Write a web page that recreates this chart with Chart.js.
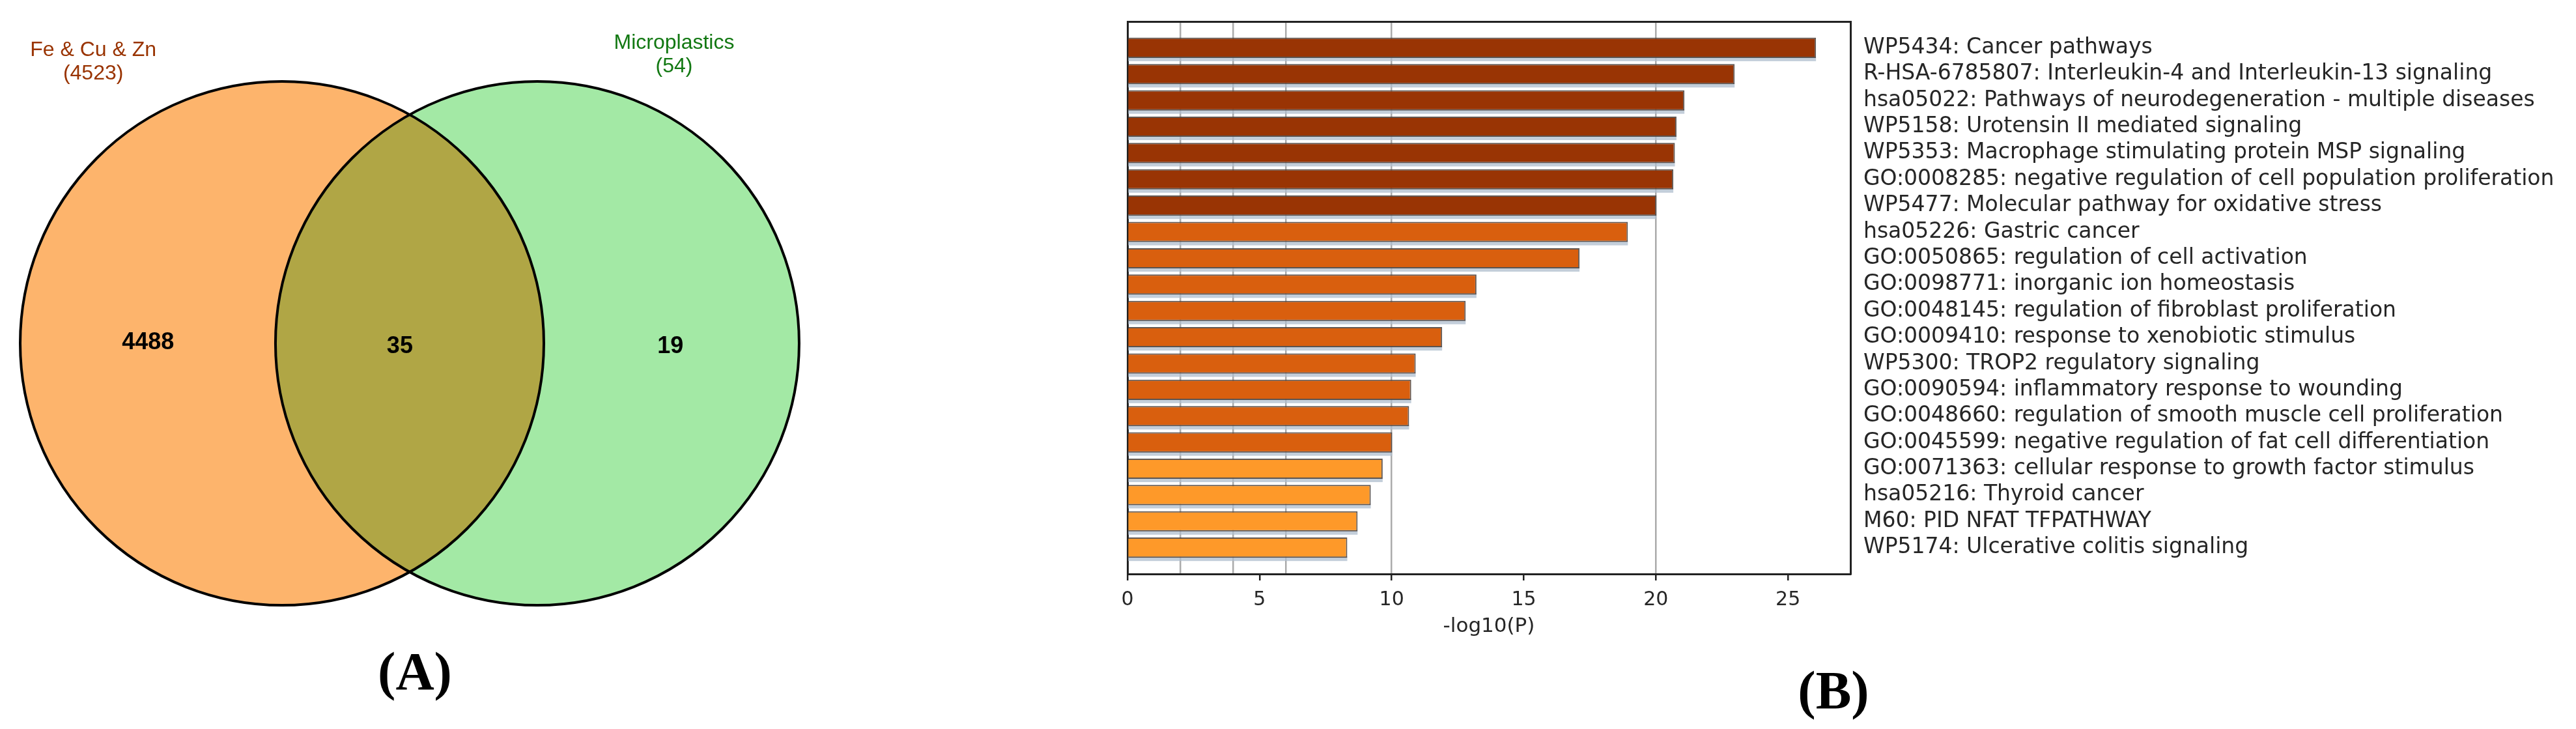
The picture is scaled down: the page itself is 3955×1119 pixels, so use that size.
<!DOCTYPE html>
<html>
<head>
<meta charset="utf-8">
<script src="https://cdn.jsdelivr.net/npm/chart.js@4.4.1/dist/chart.umd.min.js"></script>
<style>
  html, body { margin: 0; padding: 0; background: #fff; }
  #page { position: relative; width: 3955px; height: 1119px; overflow: hidden; background: #fff; }
  #venn { position: absolute; left: 0; top: 0; }
  #enrich { position: absolute; left: 1400px; top: 0; }
  .panel {
    position: absolute;
    font-family: "Liberation Serif", "Times New Roman", serif;
    font-weight: bold;
    font-size: 82px;
    line-height: 82px;
    transform: translateX(-50%);
    color: #000;
  }
</style>
</head>
<body>
<div id="page">
  <canvas id="venn" width="1320" height="1119"></canvas>
  <canvas id="enrich" width="2555" height="1119"></canvas>
  <div class="panel" style="left:637px; top:990px;">(A)</div>
  <div class="panel" style="left:2815px; top:1019px;">(B)</div>
</div>
<script>
// ---- panel A data ----
var setNames = ['Fe & Cu & Zn', 'Microplastics']
var setTotals = [4523, 54]
var regionCounts = [4488, 35, 19]   // only left, both, only right

// ---- panel B data ----
var termLabels = [
  'WP5434: Cancer pathways',
  'R-HSA-6785807: Interleukin-4 and Interleukin-13 signaling',
  'hsa05022: Pathways of neurodegeneration - multiple diseases',
  'WP5158: Urotensin II mediated signaling',
  'WP5353: Macrophage stimulating protein MSP signaling',
  'GO:0008285: negative regulation of cell population proliferation',
  'WP5477: Molecular pathway for oxidative stress',
  'hsa05226: Gastric cancer',
  'GO:0050865: regulation of cell activation',
  'GO:0098771: inorganic ion homeostasis',
  'GO:0048145: regulation of fibroblast proliferation',
  'GO:0009410: response to xenobiotic stimulus',
  'WP5300: TROP2 regulatory signaling',
  'GO:0090594: inflammatory response to wounding',
  'GO:0048660: regulation of smooth muscle cell proliferation',
  'GO:0045599: negative regulation of fat cell differentiation',
  'GO:0071363: cellular response to growth factor stimulus',
  'hsa05216: Thyroid cancer',
  'M60: PID NFAT TFPATHWAY',
  'WP5174: Ulcerative colitis signaling'
]
var logP = [26.06, 22.98, 21.08, 20.78, 20.72, 20.66, 20.02, 18.94, 17.11, 13.21,
            12.80, 11.91, 10.91, 10.74, 10.66, 10.02, 9.66, 9.21, 8.71, 8.32]
var xTickValues = [0, 5, 10, 15, 20, 25]
var cutoffLines = [2, 4, 6, 10, 20]

// ---- venn layout (data units, circle radius = 1) ----
var vennLayout = {
  centers: [0, 0.975],
  radius: 1,
  regionX: [-0.512, 0.450, 1.483],
  regionY: [0.0025, -0.012, -0.012],
  nameX: [-0.721, 1.4975],
  nameY: [1.119, 1.147],
  lineGap: 0.0896,
  fills: ['#FDB46C', '#A3E9A5'],
  overlapFill: '#B0A645',
  textColors: ['#993300', '#127812']
}

var vennPlugin = {
  id: 'venn',
  beforeDatasetsDraw: function(chart) {
    var ctx = chart.ctx, x = chart.scales.x, y = chart.scales.y
    var rx = x.getPixelForValue(vennLayout.radius) - x.getPixelForValue(0)
    var ry = y.getPixelForValue(0) - y.getPixelForValue(vennLayout.radius)
    var cy = y.getPixelForValue(0)
    var cx = vennLayout.centers.map(function(c) { return x.getPixelForValue(c) })
    function shape(px) { ctx.beginPath(); ctx.ellipse(px, cy, rx, ry, 0, 0, 2 * Math.PI) }
    ctx.save()
    cx.forEach(function(px, i) {
      shape(px); ctx.fillStyle = vennLayout.fills[i]; ctx.fill()
    })
    ctx.save()
    shape(cx[0]); ctx.clip()
    shape(cx[1]); ctx.fillStyle = vennLayout.overlapFill; ctx.fill()
    ctx.restore()
    ctx.lineWidth = 4; ctx.strokeStyle = '#000'
    cx.forEach(function(px) { shape(px); ctx.stroke() })
    ctx.restore()
  },
  afterDatasetsDraw: function(chart) {
    var ctx = chart.ctx, x = chart.scales.x, y = chart.scales.y
    ctx.save()
    ctx.textAlign = 'center'; ctx.textBaseline = 'middle'
    ctx.fillStyle = '#000'
    ctx.font = 'bold 36px "Liberation Sans", Arial, sans-serif'
    chart.getDatasetMeta(0).data.forEach(function(pt, i) {
      ctx.fillText(String(regionCounts[i]), pt.x, pt.y)
    })
    ctx.font = '32px "Liberation Sans", Arial, sans-serif'
    setNames.forEach(function(n, i) {
      ctx.fillStyle = vennLayout.textColors[i]
      var px = x.getPixelForValue(vennLayout.nameX[i])
      ctx.fillText(n, px, y.getPixelForValue(vennLayout.nameY[i]))
      ctx.fillText('(' + setTotals[i] + ')', px, y.getPixelForValue(vennLayout.nameY[i] - vennLayout.lineGap))
    })
    ctx.restore()
  }
}

new Chart(document.getElementById('venn'), {
  type: 'scatter',
  data: {
    datasets: [{
      label: 'regions',
      data: regionCounts.map(function(c, i) {
        return { x: vennLayout.regionX[i], y: vennLayout.regionY[i] }
      }),
      pointRadius: 0
    }]
  },
  options: {
    responsive: false,
    animation: false,
    events: [],
    layout: { padding: 0 },
    plugins: { legend: { display: false }, tooltip: { enabled: false } },
    scales: {
      x: { type: 'linear', display: false, min: -1.0771, max: 2.2065 },
      y: { type: 'linear', display: false, min: -1.4726, max: 1.311 }
    }
  },
  plugins: [vennPlugin]
})

// ---- enrichment bar chart ----
var xMax = Math.max.apply(null, logP) * 1.05
var labelFont = '"DejaVu Sans", Verdana, sans-serif'

// light shadow strip under each bar
var barShadow = {
  id: 'barShadow',
  beforeDatasetsDraw: function(chart) {
    var ctx = chart.ctx
    ctx.save()
    ctx.fillStyle = 'rgba(175,190,205,0.75)'
    chart.getDatasetMeta(0).data.forEach(function(bar) {
      var p = bar.getProps(['x', 'y', 'base', 'height'], true)
      ctx.fillRect(p.base, p.y + p.height / 2 - 2, p.x - p.base, 7)
    })
    ctx.restore()
  }
}

new Chart(document.getElementById('enrich'), {
  type: 'bar',
  data: {
    datasets: [{
      label: 'Enrichment',
      data: logP.map(function(v, i) { return { x: v, y: i } }),
      backgroundColor: function(c) {
        var v = c.raw ? c.raw.x : 0
        return v >= 20 ? '#993404' : (v >= 10 ? '#D95F0E' : '#FE9929')
      },
      borderColor: 'rgba(80,70,65,0.9)',
      borderWidth: 2,
      categoryPercentage: 1,
      barPercentage: 0.77,
      xAxisID: 'x',
      yAxisID: 'y'
    }]
  },
  options: {
    indexAxis: 'y',
    responsive: false,
    animation: false,
    events: [],
    layout: { padding: { left: 331, top: 33, right: 0, bottom: 0 } },
    plugins: { legend: { display: false }, tooltip: { enabled: false } },
    scales: {
      x: {
        type: 'linear', position: 'bottom', min: 0, max: xMax,
        afterBuildTicks: function(a) { a.ticks = xTickValues.map(function(v) { return { value: v } }) },
        grid: { display: true, drawOnChartArea: false, drawTicks: true, tickLength: 10, color: '#222', lineWidth: 2.5 },
        border: { display: true, color: '#222', width: 3 },
        ticks: { font: { family: labelFont, size: 30 }, color: '#262626', padding: 12 },
        title: { display: true, text: '-log10(P)', font: { family: labelFont, size: 31 }, color: '#262626', padding: { top: 0, bottom: 138 } },
        afterFit: function(a) { a.height = 238 }
      },
      xg: {
        type: 'linear', position: 'bottom', min: 0, max: xMax,
        afterBuildTicks: function(a) { a.ticks = cutoffLines.map(function(v) { return { value: v } }) },
        grid: { color: '#ababab', lineWidth: 2.5, drawTicks: false },
        border: { display: false },
        ticks: { display: false },
        afterFit: function(a) { a.height = 0 }
      },
      xt: {
        type: 'linear', position: 'top', min: 0, max: xMax,
        grid: { display: false },
        border: { display: true, color: '#222', width: 3 },
        ticks: { display: false },
        afterFit: function(a) { a.height = 0 }
      },
      y: {
        type: 'linear', position: 'right', reverse: true, min: -1, max: 20, offset: false,
        grid: { display: false },
        border: { display: true, color: '#222', width: 3 },
        ticks: {
          stepSize: 1, autoSkip: false, padding: 12,
          font: { family: labelFont, size: 33 }, color: '#262626',
          callback: function(v) { return termLabels[v] !== undefined ? termLabels[v] : '' }
        },
        afterFit: function(a) { a.width = 1114 }
      },
      yl: {
        type: 'linear', position: 'left',
        grid: { display: false },
        border: { display: true, color: '#222', width: 3 },
        ticks: { display: false },
        afterFit: function(a) { a.width = 0 }
      }
    }
  },
  plugins: [barShadow]
})
</script>
</body>
</html>
